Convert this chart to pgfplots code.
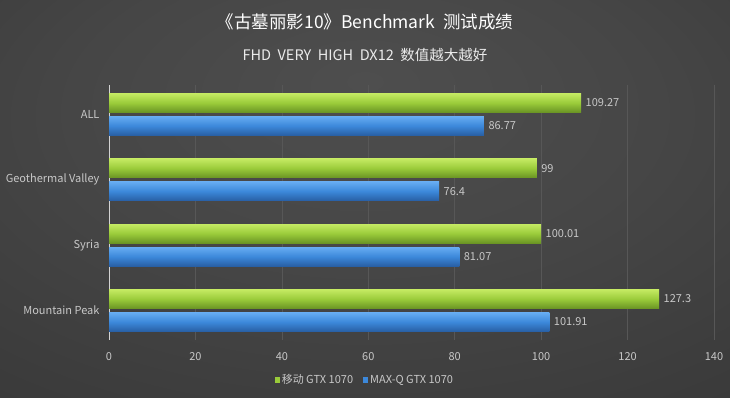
\documentclass[border=0pt]{standalone}
\usepackage{fontspec}
\setmainfont{Noto Sans CJK SC}
\usepackage{pgfplots}
\pgfplotsset{compat=1.18}
\definecolor{bgin}{HTML}{4E4E4E}
\definecolor{bgout}{HTML}{262626}
\definecolor{gtop}{HTML}{C4EA62}
\definecolor{gmid}{HTML}{9ACB3A}
\definecolor{gbot}{HTML}{6A9424}
\definecolor{btop}{HTML}{66ACF2}
\definecolor{bmid}{HTML}{3C88DA}
\definecolor{bbot}{HTML}{285FA4}
\definecolor{txt}{HTML}{C8C8C8}
\definecolor{gridc}{HTML}{575757}
\pgfdeclareradialshading{bgshade}{\pgfpoint{0bp}{15bp}}{color(0bp)=(bgin); color(20bp)=(bgin!80!bgout); color(75bp)=(bgout)}
\pgfplotsset{
  gbar/.style={bar shift=11.5pt, draw=none, top color=gtop, bottom color=gbot, middle color=gmid},
  bbar/.style={bar shift=-11.5pt, draw=none, top color=btop, bottom color=bbot, middle color=bmid},
}
\begin{document}
\begin{tikzpicture}[x=1pt,y=1pt]
\shade[shading=bgshade] (0,0) rectangle (730,398);
\node[text=white, font=\fontsize{17.5}{20}\selectfont] at (365,376) {《古墓丽影10》Benchmark\ \ 测试成绩};
\node[text=white!92!black, font=\fontsize{14.5}{17}\selectfont] at (365,343) {FHD\ \ VERY\ \ HIGH\ \ DX12\ \ 数值越大越好};
\begin{axis}[
  at={(109pt,58pt)}, anchor=south west,
  scale only axis, width=605pt, height=255pt,
  xbar, bar width=19pt,
  xmin=0, xmax=140, ymin=-0.45, ymax=3.45,
  xtick={0,20,...,140}, ytick={0,1,2,3},
  yticklabels={Mountain Peak, Syria, Geothermal Valley, ALL},
  xmajorgrids, grid style={gridc, line width=0.6pt},
  axis lines*=left,
  x axis line style={draw=none},
  y axis line style={draw=txt!80, line width=0.6pt},
  major tick length=0pt,
  ticklabel style={text=txt, font=\fontsize{11}{13}\selectfont},
  /pgf/number format/assume math mode=true,
  /pgf/number format/fixed, /pgf/number format/precision=2,
  xticklabel style={yshift=-9pt},
  yticklabel style={xshift=-6pt},
  nodes near coords,
  nodes near coords style={text=txt, font=\fontsize{11}{13}\selectfont, anchor=west, xshift=1pt},
  legend style={at={(0.423,-0.157)}, anchor=center, legend columns=2, draw=none, fill=none,
    text=txt, font=\fontsize{11}{13}\selectfont,
    /tikz/every even column/.append style={column sep=8pt}},
  legend image code/.code={\fill[#1, draw=none] (0pt,-2.5pt) rectangle (5pt,3pt);},
]
\addplot[gbar, forget plot] coordinates {(109.27,3)};
\addplot[gbar, forget plot] coordinates {(99,2)};
\addplot[gbar, forget plot] coordinates {(100.01,1)};
\addplot[gbar, forget plot] coordinates {(127.3,0)};
\addplot[bbar, forget plot] coordinates {(86.77,3)};
\addplot[bbar, forget plot] coordinates {(76.4,2)};
\addplot[bbar, forget plot] coordinates {(81.07,1)};
\addplot[bbar, forget plot] coordinates {(101.91,0)};
\addlegendimage{fill=gmid}
\addlegendentry{移动 GTX 1070}
\addlegendimage{fill=bmid}
\addlegendentry{MAX-Q GTX 1070}
\end{axis}
\end{tikzpicture}
\end{document}
